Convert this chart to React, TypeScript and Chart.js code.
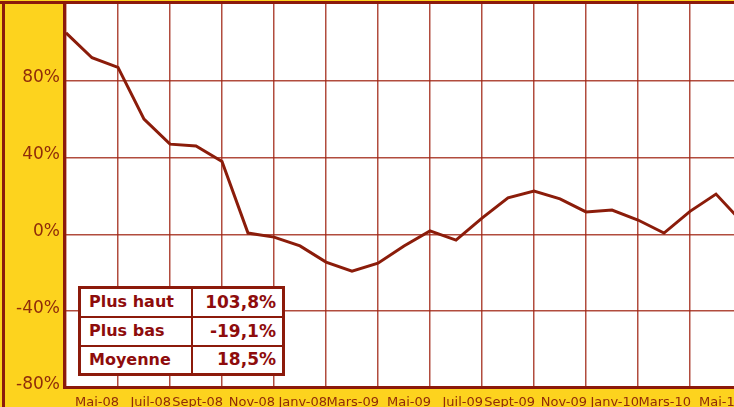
import React, { useEffect, useRef } from "react";
import { Chart, registerables } from "chart.js";

Chart.register(...registerables);

// Monthly values (Mars-08 .. Mai-10), in %
const values = [
  105, 92, 87, 60, 47, 46, 38, 0.7, -1.4, -6, -14.4, -19.1, -15, -6, 1.8, -3,
  8.5, 19, 22.6, 18.5, 11.7, 12.7, 7.5, 0.7, 12, 21, 6.5,
];

// Tick labels every two months (first gridline has no label)
const tickLabels = [
  "", "Mai-08", "Juil-08", "Sept-08", "Nov-08", "Janv-08", "Mars-09", "Mai-09",
  "Juil-09", "Sept-09", "Nov-09", "Janv-10", "Mars-10", "Mai-10", "",
];

const yTickValues = [-80, -40, 0, 40, 80];

const statLabels = ["Plus haut", "Plus bas", "Moyenne"];
const statValues = ["103,8%", "-19,1%", "18,5%"];

const W = 800;
const H = 407;
const YELLOW = "#FDD31E";
const DARK = "#8C1A0B";
const LINE = "#8B1C0A";
const GRID = "rgba(160, 36, 20, 0.82)";
const TICK = "#8F2C0A";
const TABLE_TEXT = "#8E0C0C";

const framePlugin = {
  id: "frame",
  beforeDraw(chart: any) {
    const { ctx, chartArea: a } = chart;
    ctx.save();
    ctx.fillStyle = YELLOW;
    ctx.fillRect(0, 0, chart.width, chart.height);
    ctx.fillStyle = "#ffffff";
    ctx.fillRect(a.left, a.top, a.right - a.left, a.bottom - a.top);
    ctx.restore();
  },
  beforeDatasetsDraw(chart: any) {
    const { ctx, chartArea: a } = chart;
    ctx.save();
    ctx.fillStyle = DARK;
    ctx.fillRect(0, 1, chart.width, 3);
    ctx.fillRect(2, 1, 3, chart.height);
    ctx.fillRect(a.left - 3, a.top, 3, a.bottom - a.top + 1);
    ctx.fillRect(a.left - 3, a.bottom - 2, chart.width, 3);
    ctx.restore();
  },
};

export default function App() {
  const ref = useRef<HTMLCanvasElement | null>(null);

  useEffect(() => {
    if (!ref.current) return;
    const chart = new Chart(ref.current, {
      type: "line",
      data: {
        datasets: [
          {
            data: values.map((v, i) => ({ x: i, y: v })),
            borderColor: LINE,
            borderWidth: 3,
            pointRadius: 0,
            tension: 0,
            fill: false,
          },
        ],
      },
      options: {
        responsive: false,
        animation: false,
        devicePixelRatio: 1,
        layout: { padding: { left: 0, top: 4, right: 6, bottom: 0 } },
        plugins: {
          legend: { display: false },
          tooltip: { enabled: false },
        },
        scales: {
          x: {
            type: "linear",
            min: 0,
            max: 28,
            afterBuildTicks: (s: any) => {
              s.ticks = tickLabels.map((_, i) => ({ value: i * 2 }));
            },
            afterFit: (s: any) => {
              s.height = 19;
              s.paddingLeft = 0;
              s.paddingRight = 0;
            },
            grid: { color: GRID, lineWidth: 1.5, drawTicks: false },
            border: { display: false },
            ticks: {
              autoSkip: false,
              maxRotation: 0,
              minRotation: 0,
              align: "end",
              labelOffset: 1,
              padding: 7,
              color: TICK,
              font: { family: "DejaVu Sans", size: 13 },
              callback: (_v: any, i: number) => tickLabels[i] ?? "",
            },
          },
          y: {
            min: -80,
            max: 120,
            afterBuildTicks: (s: any) => {
              s.ticks = yTickValues.map((v) => ({ value: v }));
            },
            afterFit: (s: any) => {
              s.width = 66;
              s.paddingTop = 0;
              s.paddingBottom = 0;
            },
            grid: { color: GRID, lineWidth: 1.5, drawTicks: false },
            border: { display: false },
            ticks: {
              padding: 6,
              labelOffset: -3,
              color: TICK,
              font: { family: "DejaVu Sans", size: 17 },
              callback: (v: any) => `${v}%`,
            },
          },
        },
      } as any,
      plugins: [framePlugin],
    });
    return () => chart.destroy();
  }, []);

  const cell: React.CSSProperties = {
    border: `2px solid ${DARK}`,
    height: 25,
    padding: 0,
    fontFamily: "DejaVu Sans",
    fontWeight: "bold",
    fontSize: 16,
    lineHeight: "1",
    color: TABLE_TEXT,
    background: "#ffffff",
    boxSizing: "border-box",
  };

  return (
    <div
      style={{
        position: "fixed",
        left: 0,
        top: 0,
        width: 734,
        height: 407,
        overflow: "hidden",
        background: YELLOW,
      }}
    >
      <canvas
        ref={ref}
        width={W}
        height={H}
        style={{ position: "absolute", left: 0, top: 0, display: "block" }}
      />
      <table
        style={{
          position: "absolute",
          left: 78,
          top: 286,
          width: 204,
          tableLayout: "fixed",
          borderCollapse: "collapse",
          border: `3px solid ${DARK}`,
          background: "#ffffff",
        }}
      >
        <colgroup>
          <col style={{ width: 112 }} />
          <col style={{ width: 92 }} />
        </colgroup>
        <tbody>
          {statLabels.map((lab, i) => (
            <tr key={lab} style={{ height: 29 }}>
              <td style={{ ...cell, textAlign: "left", paddingLeft: 8 }}>{lab}</td>
              <td style={{ ...cell, textAlign: "right", paddingRight: 6, fontSize: 17 }}>
                {statValues[i]}
              </td>
            </tr>
          ))}
        </tbody>
      </table>
    </div>
  );
}
